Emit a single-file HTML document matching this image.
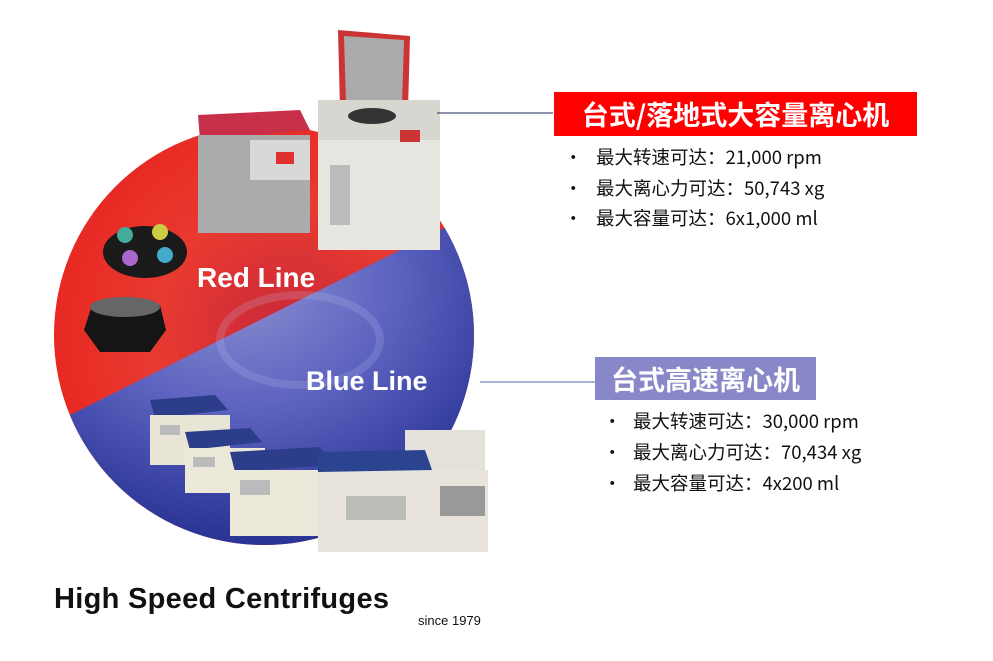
<!DOCTYPE html>
<html><head><meta charset="utf-8"><style>
html,body{margin:0;padding:0;background:#fff;}
body{width:993px;height:661px;position:relative;overflow:hidden;font-family:"Liberation Sans","Noto Sans CJK SC",sans-serif;}
.abs{position:absolute;}
.lbl{color:#fff;font-weight:bold;font-family:"Noto Sans CJK SC","WenQuanYi Zen Hei",sans-serif;white-space:nowrap;}
.li{position:absolute;font-size:18.5px;line-height:22px;color:#111;white-space:nowrap;font-family:"Noto Sans CJK SC","Liberation Sans",sans-serif;}
</style></head><body>
<svg class="abs" style="left:0;top:0" width="993" height="661">
<defs>
<clipPath id="c"><circle cx="264" cy="335" r="210"/></clipPath>
<radialGradient id="rg" cx="0.55" cy="0.5" r="0.6"><stop offset="0" stop-color="#c8283a"/><stop offset="0.5" stop-color="#e83a30"/><stop offset="1" stop-color="#e8221e"/></radialGradient>
<radialGradient id="bg" cx="0.45" cy="0.2" r="0.7"><stop offset="0" stop-color="#8d8fd0"/><stop offset="0.5" stop-color="#5d63c0"/><stop offset="1" stop-color="#2a3596"/></radialGradient>
</defs>
<g clip-path="url(#c)">
<rect x="40" y="110" width="450" height="460" fill="url(#rg)"/>
<polygon points="40,430 480,210 480,570 40,570" fill="url(#bg)"/>
<ellipse cx="300" cy="340" rx="80" ry="45" fill="none" stroke="#c0c4f0" stroke-width="8" opacity="0.2"/>
</g>
<!-- floor unit -->
<polygon points="338,30 410,36 408,110 340,108" fill="#c33" />
<polygon points="344,36 404,40 402,104 346,102" fill="#aaa"/>
<rect x="318" y="100" width="122" height="150" fill="#e8e6e0"/>
<rect x="318" y="100" width="122" height="40" fill="#d8d6d0"/>
<ellipse cx="372" cy="116" rx="24" ry="8" fill="#333"/>
<rect x="400" y="130" width="20" height="12" fill="#c33"/>
<rect x="330" y="165" width="20" height="60" fill="#bbb"/>
<!-- red benchtop -->
<polygon points="198,115 300,110 310,130 200,140" fill="#c8304a"/>
<rect x="198" y="135" width="112" height="98" fill="#a9abad"/>
<rect x="250" y="140" width="60" height="40" fill="#d8d8d8"/>
<rect x="276" y="152" width="18" height="12" fill="#e03030"/>
<!-- rotors -->
<ellipse cx="145" cy="252" rx="42" ry="26" fill="#1a1a1a"/>
<circle cx="125" cy="235" r="8" fill="#4a9"/><circle cx="160" cy="232" r="8" fill="#cc4"/><circle cx="130" cy="258" r="8" fill="#a6c"/><circle cx="165" cy="255" r="8" fill="#4ac"/>
<polygon points="84,330 92,305 160,305 166,330 150,352 100,352" fill="#151515"/>
<ellipse cx="125" cy="307" rx="35" ry="10" fill="#666"/>
<!-- blue line devices -->
<g><polygon points="150,400 215,395 228,410 155,418" fill="#2c3d8a"/><rect x="150" y="415" width="80" height="50" fill="#e8e4d6"/><rect x="160" y="425" width="20" height="10" fill="#bbb"/></g>
<g><polygon points="185,432 250,428 262,442 190,450" fill="#2c3d8a"/><rect x="185" y="448" width="80" height="45" fill="#ece8da"/><rect x="193" y="457" width="22" height="10" fill="#bbb"/></g>
<g><polygon points="230,452 320,447 332,465 235,472" fill="#2c3d8a"/><rect x="230" y="470" width="92" height="66" fill="#ece8da"/><rect x="240" y="480" width="30" height="15" fill="#bbb"/></g>
<rect x="405" y="430" width="80" height="40" fill="#e4e0da"/>
<rect x="318" y="470" width="170" height="82" fill="#e8e4dc"/>
<polygon points="318,452 425,450 432,470 318,472" fill="#2a4490"/>
<rect x="346" y="496" width="60" height="24" fill="#bbbcb6"/>
<rect x="440" y="486" width="45" height="30" fill="#999"/>
<!-- connectors -->
<line x1="437" y1="113" x2="553" y2="113" stroke="#1f2b5a" stroke-width="1"/>
<line x1="480" y1="382" x2="595" y2="382" stroke="#5a5fb0" stroke-width="1"/>
</svg>
<div class="abs" style="left:197px;top:262px;font-size:28px;font-weight:bold;color:#fff;">Red Line</div>
<div class="abs" style="left:306px;top:366px;font-size:27px;font-weight:bold;color:#fff;">Blue Line</div>
<div class="abs lbl" style="left:554px;top:92px;width:363px;height:44px;background:#ff0000;font-size:27px;line-height:44px;text-align:center;">台式/落地式大容量离心机</div>
<div class="abs lbl" style="left:595px;top:357px;width:221px;height:43px;background:#8888c8;font-size:27px;line-height:43px;text-align:center;">台式高速离心机</div>
<div class="li" style="left:564px;top:146px">•</div><div class="li" style="left:596px;top:146px">最大转速可达：21,000 rpm</div>
<div class="li" style="left:564px;top:177px">•</div><div class="li" style="left:596px;top:177px">最大离心力可达：50,743 xg</div>
<div class="li" style="left:564px;top:207px">•</div><div class="li" style="left:596px;top:207px">最大容量可达：6x1,000 ml</div>
<div class="li" style="left:603px;top:410px">•</div><div class="li" style="left:633px;top:410px">最大转速可达：30,000 rpm</div>
<div class="li" style="left:603px;top:441px">•</div><div class="li" style="left:633px;top:441px">最大离心力可达：70,434 xg</div>
<div class="li" style="left:603px;top:472px">•</div><div class="li" style="left:633px;top:472px">最大容量可达：4x200 ml</div>
<div class="abs" style="left:54px;top:583px;font-size:29px;font-weight:bold;color:#111;letter-spacing:0.3px;">High Speed Centrifuges</div>
<div class="abs" style="left:418px;top:613px;font-size:13px;color:#111;">since 1979</div>
</body></html>
